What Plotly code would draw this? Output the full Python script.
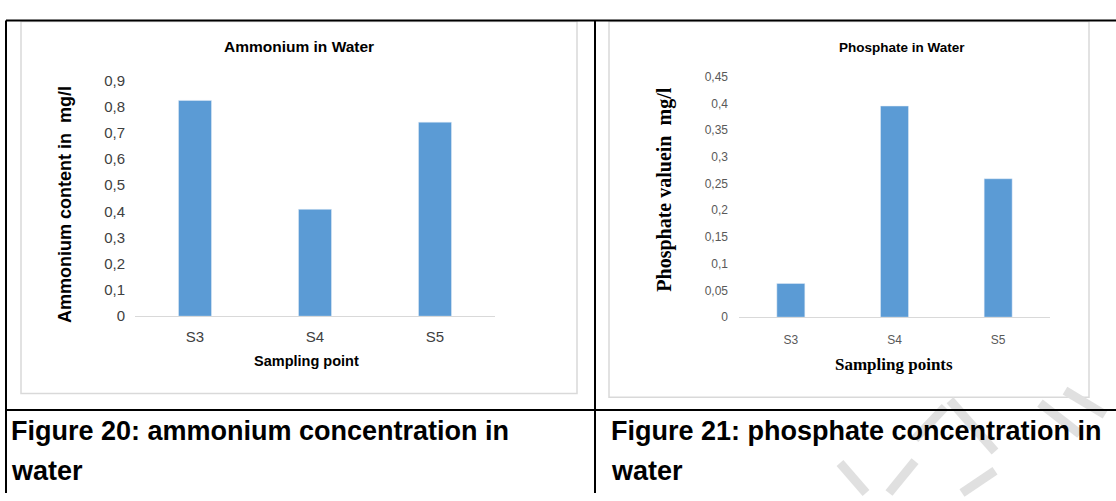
import plotly.graph_objects as go

W, H = 1116, 501

categories = ["S3", "S4", "S5"]
ammonium_mg_l = [0.824, 0.408, 0.741]
phosphate_mg_l = [0.063, 0.395, 0.259]

ammonium_ticks = [0, 0.1, 0.2, 0.3, 0.4, 0.5, 0.6, 0.7, 0.8, 0.9]
ammonium_tick_labels = ["0", "0,1", "0,2", "0,3", "0,4", "0,5", "0,6", "0,7", "0,8", "0,9"]
phosphate_ticks = [0, 0.05, 0.1, 0.15, 0.2, 0.25, 0.3, 0.35, 0.4, 0.45]
phosphate_tick_labels = ["0", "0,05", "0,1", "0,15", "0,2", "0,25", "0,3", "0,35", "0,4", "0,45"]

BAR = "#5b9bd5"
ARIAL = "Liberation Sans, Arial, sans-serif"
TIMES = "Liberation Serif, Times New Roman, serif"


def px(x):
    return x / W


def py(y):
    return 1 - y / H


fig = go.Figure()
fig.add_trace(go.Bar(x=categories, y=ammonium_mg_l, marker_color=BAR, width=0.275,
                     xaxis="x", yaxis="y", showlegend=False))
fig.add_trace(go.Bar(x=categories, y=phosphate_mg_l, marker_color=BAR, width=0.27,
                     xaxis="x2", yaxis="y2", showlegend=False))

axis_common = dict(showgrid=False, zeroline=False, ticks="", fixedrange=True)

fig.update_layout(
    width=W, height=H,
    margin=dict(l=0, r=0, t=0, b=0),
    paper_bgcolor="white", plot_bgcolor="rgba(0,0,0,0)",
    xaxis=dict(domain=[px(135), px(495)], range=[-0.5, 2.5], anchor="y",
               showline=True, linecolor="#d9d9d9", linewidth=1,
               tickfont=dict(family=ARIAL, size=15, color="#404040"),
               ticklabelstandoff=7, **axis_common),
    yaxis=dict(domain=[py(318), py(74)], range=[0, 0.9], anchor="x",
               tickvals=ammonium_ticks, ticktext=ammonium_tick_labels,
               tickfont=dict(family=ARIAL, size=15, color="#404040"),
               ticklabelstandoff=9, showline=False, **axis_common),
    xaxis2=dict(domain=[px(739), px(1050)], range=[-0.5, 2.5], anchor="y2",
                showline=True, linecolor="#d9d9d9", linewidth=1,
                tickfont=dict(family=ARIAL, size=12, color="#595959"),
                ticklabelstandoff=11, **axis_common),
    yaxis2=dict(domain=[py(319), py(70)], range=[0, 0.45], anchor="x2",
                tickvals=phosphate_ticks, ticktext=phosphate_tick_labels,
                tickfont=dict(family=ARIAL, size=12, color="#595959"),
                ticklabelstandoff=10, showline=False, **axis_common),
)

shapes = []
# chart area boxes
shapes.append(dict(type="rect", xref="paper", yref="paper", x0=px(21), x1=px(577),
                   y0=py(398), y1=py(13), line=dict(color="#d9d9d9", width=1.5),
                   fillcolor="white", layer="below"))
shapes.append(dict(type="rect", xref="paper", yref="paper", x0=px(609), x1=px(1089),
                   y0=py(402), y1=py(13), line=dict(color="#d9d9d9", width=1.5),
                   fillcolor="white", layer="below"))
# faint watermark strokes (decoration) in the lower right
watermark = [
    (840, 470, 866, 501),
    (915, 468, 889, 501),
    (950, 405, 995, 458),
    (945, 412, 915, 445),
    (995, 478, 962, 501),
    (1040, 408, 1080, 440),
    (1065, 395, 1105, 420),
]
for x0, y0, x1, y1 in watermark:
    shapes.append(dict(type="line", xref="paper", yref="paper",
                       x0=px(x0), y0=py(y0), x1=px(x1), y1=py(y1),
                       line=dict(color="#e0e0e0", width=9), layer="below"))
# table lines
table_lines = [
    (6, 12, 1116, 12),
    (6, 12, 6, 501),
    (595, 12, 595, 501),
    (6, 415, 1116, 415),
]
for x0, y0, x1, y1 in table_lines:
    shapes.append(dict(type="line", xref="paper", yref="paper",
                       x0=px(x0), y0=py(y0), x1=px(x1), y1=py(y1),
                       line=dict(color="black", width=2), layer="above"))
fig.update_layout(shapes=shapes)


def note(text, x, y, font, size, angle=0, xanchor="center"):
    return dict(text=text, x=px(x), y=py(y), xref="paper", yref="paper",
                xanchor=xanchor, yanchor="middle", showarrow=False, textangle=angle,
                font=dict(family=font, size=size, color="black"))


ann = [
    note("<b>Ammonium in Water</b>", 299, 39, ARIAL, 15.5),
    note("<b>Sampling point</b>", 306, 364, ARIAL, 14.5),
    note("<b>Ammonium content in  mg/l</b>", 65, 203, ARIAL, 18, angle=-90),
    note("<b>Phosphate in Water</b>", 902, 40, ARIAL, 13.5),
    note("<b>Sampling points</b>", 894, 368, TIMES, 17),
    note("<b>Phosphate valuein  mg/l</b>", 665, 187, TIMES, 20, angle=-90),
]
# captions
for x, line1 in [(9, "Figure 20: ammonium concentration in"), (609, "Figure 21: phosphate concentration in")]:
    ann.append(note("<b>" + line1 + "</b>", x, 437, ARIAL, 27, xanchor="left"))
    ann.append(note("<b>water</b>", x, 478, ARIAL, 27, xanchor="left"))
fig.update_layout(annotations=ann)

fig.write_html("out.html", config={"displayModeBar": False},
               post_script="document.body.style.margin='0px';")
